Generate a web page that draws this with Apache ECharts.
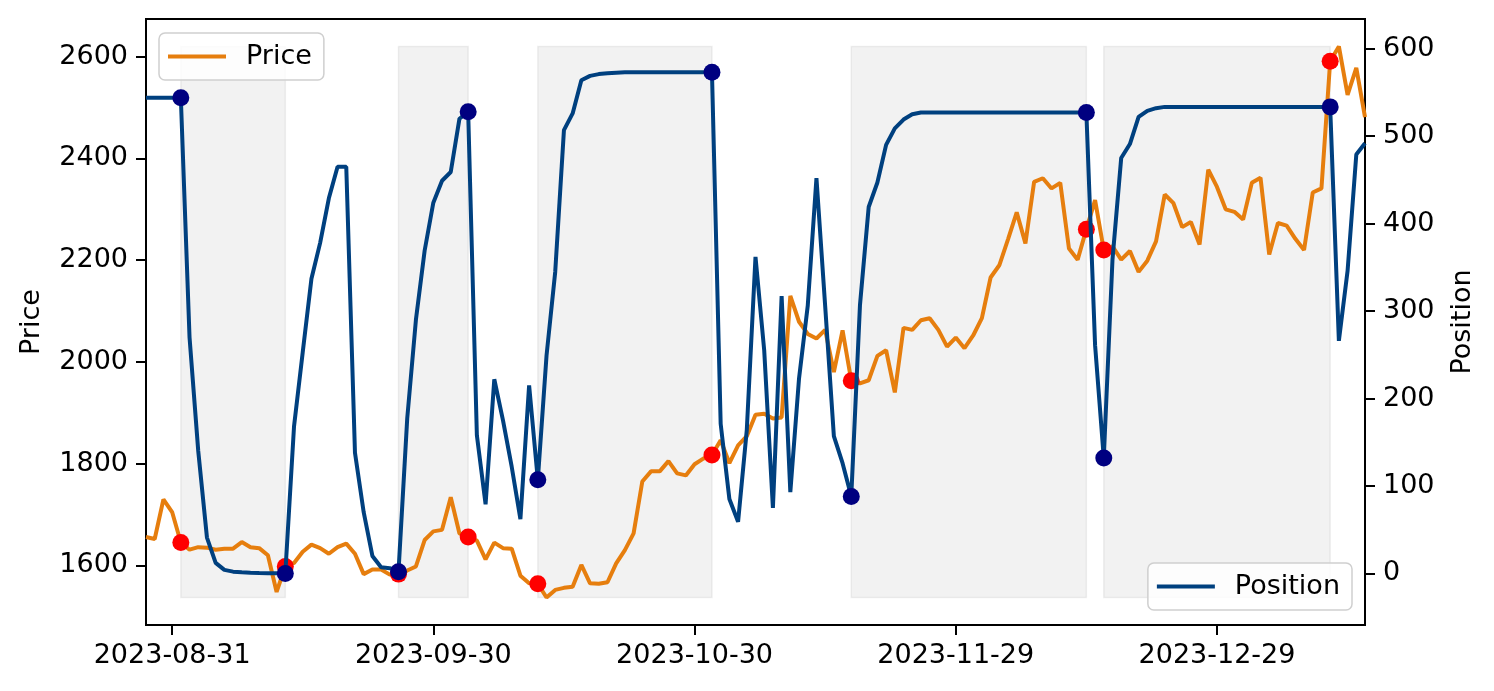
<!DOCTYPE html>
<html>
<head>
<meta charset="utf-8">
<script src="https://cdn.jsdelivr.net/npm/echarts@6/dist/echarts.min.js"></script>
<style>
html,body{margin:0;padding:0;background:#fff;}
#chart{width:1494px;height:691px;}
</style>
</head>
<body>
<div id="chart"></div>
<script>
// ---- data ----
const startDate = '2023-08-28';
const nDays = 141;
const price = [
1656,1652,1730,1705,1645,1631,1636,1635,1631,1633,
1633,1646,1636,1634,1620,1548,1598,1605,1627,1641,
1634,1623,1636,1643,1623,1583,1592,1592,1582,1583,
1590,1598,1650,1667,1670,1734,1663,1656,1649,1612,
1645,1634,1633,1580,1565,1564,1537,1552,1556,1558,
1601,1565,1564,1567,1604,1630,1663,1765,1785,1785,
1805,1781,1777,1799,1810,1817,1846,1801,1836,1854,
1896,1898,1889,1891,2130,2079,2055,2046,2063,1980,
2062,1963,1958,1964,2012,2023,1940,2067,2063,2082,
2086,2063,2030,2048,2027,2052,2086,2166,2190,2241,
2294,2233,2354,2361,2341,2352,2223,2201,2261,2318,
2220,2227,2201,2218,2177,2199,2237,2329,2312,2265,
2275,2231,2378,2344,2300,2295,2280,2352,2362,2211,
2273,2268,2242,2220,2333,2341,2591,2620,2525,2578,
2481];
const position = [
544,544,544,544,544,
270,140,41,12,4,2,1.2,0.8,0.5,0.3,0.2,0,
168,253,337,378,429,465,465,138,70,20,7,6,2,
177,290,369,424,449,459,520,528,158,79,
222,175,122,62,215,107,249,345,507,526,
564,569,571,572,572.5,573,573,573,573,573,573,573,573,573,573,573,
171,85,59,164,362,255,75,317,93,223,
306,452,306,157,126,88,307,419,447,490,
509,519,525,527,
527,527,527,527,527,527,527,527,527,527,527,527,527,527,527,527,527,527,527,
261,132,359,475,491,522,529,532,
533.5,533.5,533.5,533.5,533.5,533.5,533.5,533.5,533.5,533.5,533.5,533.5,533.5,533.5,533.5,533.5,533.5,533.5,533.5,533.5,
266,346,479,492];
const tradeDates = ['2023-09-01','2023-09-13','2023-09-26','2023-10-04','2023-10-12',
  '2023-11-01','2023-11-17','2023-12-14','2023-12-16','2024-01-11'];
const xTickLabels = ['2023-08-31','2023-09-30','2023-10-30','2023-11-29','2023-12-29'];
const priceTicks = [1600,1800,2000,2200,2400,2600];
const positionTicks = [0,100,200,300,400,500,600];

// ---- build ----
const dates = [];
{
  const p = startDate.split('-').map(Number);
  for (let i = 0; i < nDays; i++) {
    dates.push(new Date(Date.UTC(p[0], p[1]-1, p[2]+i)).toISOString().slice(0,10));
  }
}
const tradeIdx = tradeDates.map(d => dates.indexOf(d));
const pMin = Math.min(...price), pMax = Math.max(...price);
const spans = [];
for (let k = 0; k + 1 < tradeDates.length; k += 2) {
  spans.push([{xAxis: tradeDates[k], yAxis: pMin}, {xAxis: tradeDates[k+1], yAxis: pMax}]);
}
const isTick = (i, v) => xTickLabels.indexOf(dates[i] !== undefined ? dates[i] : v) >= 0;
const plain = v => String(v);

const FONT = 'DejaVu Sans';
const ORANGE = '#E67E0E';
const BLUE = '#00407F';
const legendCommon = {
  orient: 'horizontal', icon: 'rect', itemWidth: 58, itemHeight: 4,
  padding: [10, 12, 10, 9], backgroundColor: 'rgba(255,255,255,0.8)',
  borderColor: '#cfcfcf', borderWidth: 1.5, borderRadius: 6, selectedMode: false,
  textStyle: {fontSize: 27, fontFamily: FONT, color: '#000', padding: [0,0,0,15]}
};

const chart = echarts.init(document.getElementById('chart'), null, {renderer: 'canvas'});
chart.setOption({
  animation: false,
  backgroundColor: '#fff',
  grid: {left: 146, right: 129, top: 19, bottom: 66, show: true, borderColor: '#000', borderWidth: 2, backgroundColor: 'transparent'},
  legend: [
    Object.assign({}, legendCommon, {data: ['Price'], left: 159, top: 33}),
    Object.assign({}, legendCommon, {data: ['Position'], right: 142, top: 563})
  ],
  xAxis: {
    type: 'category', data: dates, boundaryGap: false,
    axisLine: {show: true, onZero: false, lineStyle: {color: '#000', width: 2}},
    axisTick: {show: true, interval: isTick, length: 10, lineStyle: {color: '#000', width: 2}},
    axisLabel: {interval: isTick, fontSize: 27, fontFamily: FONT, color: '#000', margin: 17},
    splitLine: {show: false}
  },
  yAxis: [
    {
      type: 'value', min: 1483, max: 2674, position: 'left',
      name: 'Price', nameLocation: 'middle', nameRotate: 90, nameGap: 101, nameMoveOverlap: false,
      nameTextStyle: {fontSize: 27, fontFamily: FONT, color: '#000'},
      axisLine: {show: true, onZero: false, lineStyle: {color: '#000', width: 2}},
      axisTick: {show: true, customValues: priceTicks, length: 10, lineStyle: {color: '#000', width: 2}},
      axisLabel: {customValues: priceTicks, formatter: plain, fontSize: 27, fontFamily: FONT, color: '#000', margin: 18},
      splitLine: {show: false}
    },
    {
      type: 'value', min: -59, max: 634, position: 'right',
      name: 'Position', nameLocation: 'middle', nameRotate: 90, nameGap: 84, nameMoveOverlap: false,
      nameTextStyle: {fontSize: 27, fontFamily: FONT, color: '#000'},
      axisLine: {show: true, onZero: false, lineStyle: {color: '#000', width: 2}},
      axisTick: {show: true, customValues: positionTicks, length: 10, lineStyle: {color: '#000', width: 2}},
      axisLabel: {customValues: positionTicks, formatter: plain, fontSize: 27, fontFamily: FONT, color: '#000', margin: 18},
      splitLine: {show: false}
    }
  ],
  series: [
    {
      name: 'Price', type: 'line', yAxisIndex: 0, data: price, symbol: 'none', z: 2,
      lineStyle: {color: ORANGE, width: 4}, itemStyle: {color: ORANGE},
      markArea: {
        silent: true,
        itemStyle: {color: 'rgba(128,128,128,0.1)', borderColor: 'rgba(128,128,128,0.12)', borderWidth: 1.5},
        data: spans
      }
    },
    {
      name: 'PriceTrades', type: 'scatter', yAxisIndex: 0, z: 3, symbolSize: 17,
      itemStyle: {color: '#FF0000', opacity: 1},
      data: tradeIdx.map(i => [i, price[i]])
    },
    {
      name: 'Position', type: 'line', yAxisIndex: 1, data: position, symbol: 'none', z: 4,
      lineStyle: {color: BLUE, width: 4}, itemStyle: {color: BLUE}
    },
    {
      name: 'PositionTrades', type: 'scatter', yAxisIndex: 1, z: 5, symbolSize: 17,
      itemStyle: {color: '#000080', opacity: 1},
      data: tradeIdx.map(i => [i, position[i]])
    }
  ]
});
</script>
</body>
</html>
